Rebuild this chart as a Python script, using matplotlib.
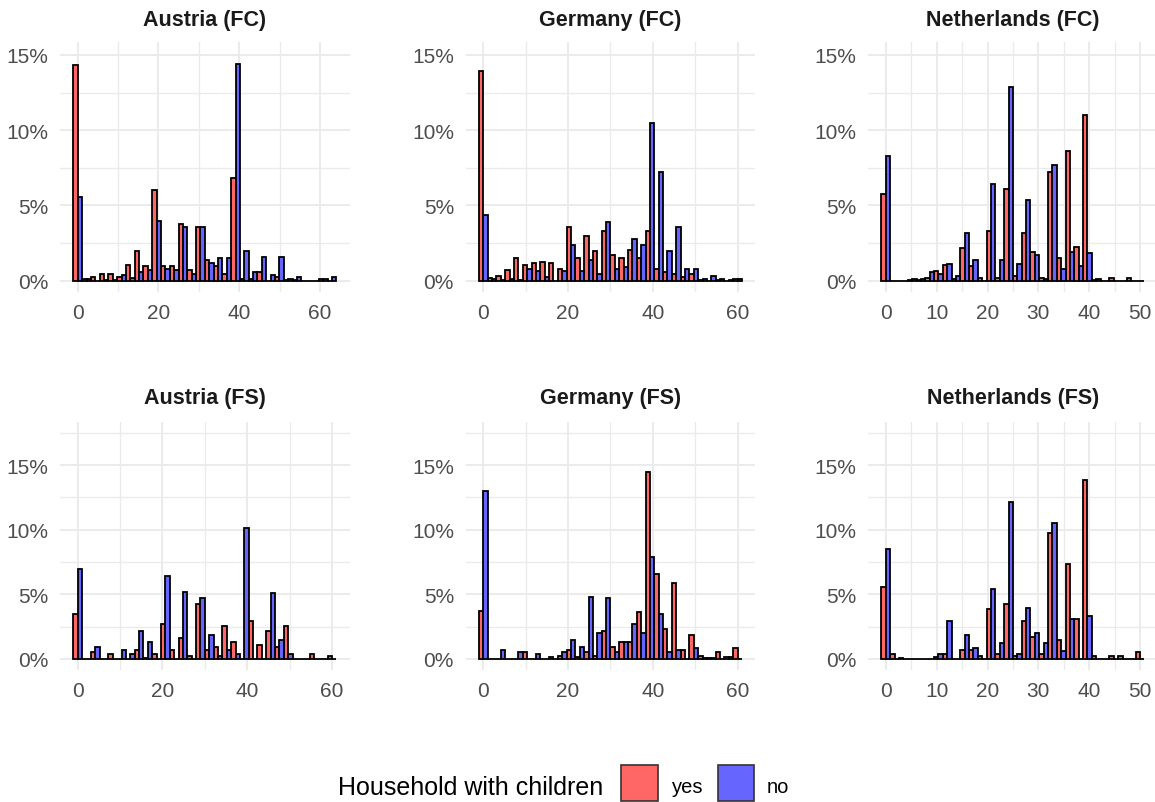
import numpy as np
import matplotlib
matplotlib.use("Agg")
import matplotlib.pyplot as plt
from matplotlib.patches import Rectangle

plt.rcParams['font.family'] = ['Liberation Sans', 'DejaVu Sans']

# --- data: share of each group per bin (%), 30 bins per panel ---
panel_titles = ["Austria (FC)", "Germany (FC)", "Netherlands (FC)",
                "Austria (FS)", "Germany (FS)", "Netherlands (FS)"]
max_hours = [63, 60, 50, 60, 60, 50]
legend_labels = ["yes", "no"]

at_fc_yes = [14.3, 0.1, 0.25, 0.45, 0.45, 0.25, 1.05, 2.0, 0.95, 6.0, 0.95, 0.95, 3.8, 0.7, 3.6,
             1.4, 0.95, 0.45, 6.8, 0.1, 0.1, 0.6, 0, 0.25, 0.05, 0.05, 0, 0, 0.1, 0]
at_fc_no = [5.55, 0.1, 0, 0.05, 0.05, 0.35, 0.2, 0.55, 0.7, 3.95, 0.8, 0.7, 3.6, 0.45, 3.6,
            1.2, 1.5, 1.5, 14.4, 2.0, 0.6, 1.6, 0.35, 1.6, 0.1, 0.25, 0, 0, 0.1, 0.25]
de_fc_yes = [13.93, 0.2, 0.31, 0.71, 1.49, 1.02, 1.16, 1.27, 1.16, 0.8, 3.56, 1.49, 2.98, 1.96, 3.33,
             1.71, 1.49, 2.04, 1.49, 3.33, 0.8, 0.56, 0.42, 0.22, 0.42, 0.05, 0, 0.05, 0, 0.1]
de_fc_no = [4.38, 0.1, 0.05, 0.1, 0.05, 0.76, 0.64, 0.27, 0, 0.67, 2.38, 0.67, 1.38, 0.42, 3.91,
            0.76, 0.89, 2.76, 2.4, 10.49, 7.24, 1.96, 3.56, 0.78, 0.78, 0.1, 0.33, 0.1, 0.05, 0.1]
nl_fc_yes = [5.76, 0, 0, 0.05, 0.05, 0.2, 0.67, 1.02, 0.09, 2.16, 1.0, 0.2, 3.33, 0.2, 6.09,
             0.31, 3.2, 1.93, 0.2, 7.22, 1.49, 8.64, 2.27, 11.04, 0.05, 0, 0.2, 0, 0.2, 0]
nl_fc_no = [8.27, 0, 0, 0.09, 0.09, 0.56, 0.42, 1.13, 0.31, 3.2, 1.36, 0, 6.44, 1.36, 12.89,
            1.13, 5.36, 1.69, 0.09, 7.69, 0.78, 1.91, 1.0, 1.82, 0.09, 0, 0, 0, 0, 0]
at_fs_yes = [3.47, 0, 0.51, 0, 0.39, 0, 0, 0.69, 0.1, 0.39, 2.7, 0.69, 1.65, 0.26, 4.29,
             0.69, 0.93, 2.52, 1.34, 0, 2.93, 1.08, 2.16, 0.93, 2.52, 0, 0, 0.39, 0, 0.26]
at_fs_no = [6.94, 0, 0.93, 0, 0, 0.69, 0.39, 2.16, 1.34, 0, 6.43, 0, 5.19, 0, 4.68,
            1.85, 0.26, 0.69, 0.39, 10.13, 0, 0, 5.09, 1.49, 0.39, 0, 0, 0, 0, 0]
de_fs_yes = [3.73, 0, 0, 0, 0, 0.51, 0, 0, 0.13, 0.26, 0.69, 0.13, 0.51, 0.26, 2.16,
             0.93, 1.34, 1.34, 3.6, 14.45, 6.56, 2.29, 5.86, 0.69, 1.85, 0.26, 0.1, 0.51, 0.13, 0.82]
de_fs_no = [12.98, 0, 0.69, 0, 0.51, 0, 0.39, 0, 0, 0.51, 1.49, 0.93, 4.81, 2.0, 4.68,
            0.51, 1.34, 2.7, 2.0, 7.89, 3.47, 0.51, 0.69, 0, 0.82, 0.05, 0.1, 0, 0.13, 0]
nl_fs_yes = [5.6, 0.39, 0.1, 0, 0, 0, 0.13, 0.39, 0, 0.69, 0.69, 0.26, 3.86, 0.39, 4.24,
             0.26, 2.96, 1.72, 0.39, 9.72, 1.47, 7.33, 3.08, 13.88, 0.26, 0, 0.26, 0.26, 0, 0.57]
nl_fs_no = [8.53, 0, 0, 0, 0, 0, 0.39, 2.96, 0, 1.85, 0.82, 0, 5.45, 1.21, 12.13,
            0.39, 3.98, 2.0, 1.21, 10.54, 0.64, 3.08, 0, 3.34, 0, 0, 0, 0, 0, 0]

yes_series = [at_fc_yes, de_fc_yes, nl_fc_yes, at_fs_yes, de_fs_yes, nl_fs_yes]
no_series = [at_fc_no, de_fc_no, nl_fc_no, at_fs_no, de_fs_no, nl_fs_no]

# --- styling ---
C_YES = "#FF6666"
C_NO = "#6666FF"
GRID = "#EBEBEB"
TXT = "#4D4D4D"
W, H = 1155, 803

fig = plt.figure(figsize=(W / 100, H / 100), dpi=100)

# panel boxes in pixels: left, top, bottom
lefts = [60.2, 465.8, 868.3]
panel_w = 289.3
rows = [(43.3, 293.1, 15.84, -0.754, [2.5, 7.5, 12.5]),
        (422.7, 671.3, 18.35, -0.874, [2.5, 7.5, 12.5, 17.5])]

for i, title in enumerate(panel_titles):
    r, c = divmod(i, 3)
    top, bot, ymax, ymin, yminor = rows[r]
    ax = fig.add_axes([lefts[c] / W, 1 - bot / H, panel_w / W, (bot - top) / H])

    m = max_hours[i]
    w = m / 29
    centers = np.arange(30) * w
    ax.bar(centers - w / 4, yes_series[i], width=w / 2, color=C_YES,
           edgecolor="black", linewidth=1.3, zorder=3)
    ax.bar(centers + w / 4, no_series[i], width=w / 2, color=C_NO,
           edgecolor="black", linewidth=1.3, zorder=3)

    ax.set_xlim(-2 * w, 31 * w)
    ax.set_ylim(ymin, ymax)
    if m > 55:
        ax.set_xticks([0, 20, 40, 60])
        ax.set_xticks([10, 30, 50], minor=True)
    else:
        ax.set_xticks([0, 10, 20, 30, 40, 50])
        ax.set_xticks([5, 15, 25, 35, 45], minor=True)
    ax.set_yticks([0, 5, 10, 15])
    ax.set_yticklabels(["0%", "5%", "10%", "15%"])
    ax.set_yticks(yminor, minor=True)

    ax.grid(which="major", color=GRID, linewidth=1.4, zorder=0)
    ax.grid(which="minor", color=GRID, linewidth=1.0, zorder=0)
    ax.set_axisbelow(True)
    for s in ax.spines.values():
        s.set_visible(False)
    ax.tick_params(which="both", length=0)
    ax.tick_params(axis="x", pad=8, labelsize=15, labelcolor=TXT)
    ax.tick_params(axis="y", pad=8.5, labelsize=15, labelcolor=TXT)

    title_y = 1 + (top - (21 if r == 0 else 399)) / (bot - top)
    ax.text(0.5, title_y, title, transform=ax.transAxes, ha="center", va="center",
            fontsize=15.5, fontweight="bold", color="#1A1A1A")

# --- legend ---
fig.text(338 / W, 1 - 795 / H, "Household with children", fontsize=18,
         ha="left", va="baseline", color="black")
key_x = [621, 717.7]
label_x = [671.7, 767]
for kx, lx, col, lab in zip(key_x, label_x, [C_YES, C_NO], legend_labels):
    fig.add_artist(Rectangle((kx / W, 1 - 802.3 / H), 36.6 / W, 36.6 / H,
                             transform=fig.transFigure, facecolor=col,
                             edgecolor="#333333", linewidth=1.2))
    fig.text(lx / W, 1 - 793 / H, lab, fontsize=14.5, ha="left",
             va="baseline", color="black")

plt.savefig("out.png", dpi=100)
